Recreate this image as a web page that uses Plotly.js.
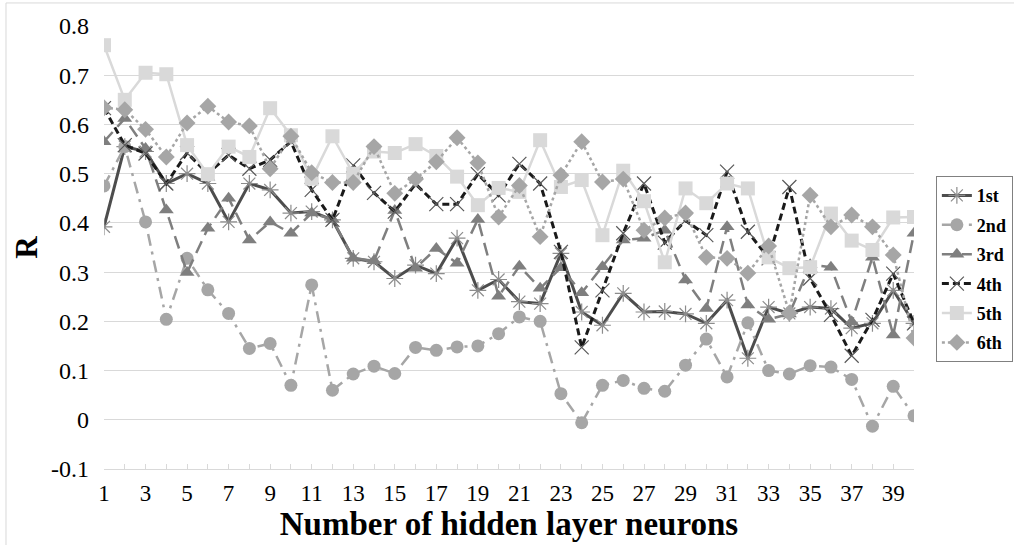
<!DOCTYPE html>
<html>
<head>
<meta charset="utf-8">
<script src="https://cdn.plot.ly/plotly-3.0.1.min.js"></script>
<style>
  html, body { margin: 0; padding: 0; background: #fff; }
  #chart { width: 1014px; height: 545px; }
</style>
</head>
<body>
<div id="chart"></div>
<script>
// Number of hidden layer neurons
const neurons = [1,2,3,4,5,6,7,8,9,10,11,12,13,14,15,16,17,18,19,20,
                 21,22,23,24,25,26,27,28,29,30,31,32,33,34,35,36,37,38,39,40];

const seriesNames = ["1st", "2nd", "3rd", "4th", "5th", "6th"];

const r1st = [0.392,0.555,0.545,0.480,0.500,0.480,0.402,0.480,0.467,0.420,
              0.423,0.406,0.328,0.321,0.287,0.314,0.297,0.369,0.263,0.285,
              0.240,0.236,0.338,0.219,0.192,0.257,0.219,0.220,0.215,0.196,
              0.243,0.125,0.229,0.216,0.229,0.226,0.186,0.196,0.263,0.196];

const r2nd = [0.475,0.555,0.402,0.204,0.328,0.264,0.216,0.145,0.155,0.070,
              0.274,0.060,0.093,0.109,0.094,0.147,0.141,0.148,0.150,0.175,
              0.209,0.200,0.053,-0.006,0.070,0.080,0.064,0.058,0.111,0.164,
              0.087,0.197,0.100,0.093,0.110,0.107,0.082,-0.013,0.068,0.008];

const r3rd = [0.565,0.612,0.551,0.426,0.299,0.389,0.450,0.365,0.402,0.379,
              0.420,0.407,0.328,0.323,0.425,0.308,0.348,0.318,0.407,0.251,
              0.312,0.267,0.309,0.258,0.311,0.365,0.369,0.385,0.284,0.226,
              0.392,0.233,0.204,0.215,0.315,0.310,0.199,0.330,0.172,0.379];

const r4th = [0.633,0.558,0.541,0.480,0.542,0.500,0.538,0.510,0.528,0.565,
              0.467,0.406,0.517,0.461,0.423,0.479,0.438,0.438,0.499,0.456,
              0.520,0.480,0.341,0.147,0.263,0.379,0.480,0.360,0.405,0.375,
              0.504,0.382,0.328,0.473,0.287,0.213,0.130,0.203,0.297,0.196];

const r5th = [0.761,0.650,0.705,0.702,0.558,0.499,0.555,0.534,0.633,0.578,
              0.490,0.576,0.500,0.545,0.542,0.560,0.536,0.494,0.436,0.471,
              0.463,0.568,0.473,0.487,0.375,0.506,0.444,0.320,0.470,0.440,
              0.480,0.470,0.330,0.308,0.310,0.419,0.364,0.345,0.411,0.412];

const r6th = [0.634,0.630,0.590,0.534,0.603,0.637,0.605,0.597,0.510,0.576,
              0.502,0.482,0.482,0.555,0.460,0.489,0.524,0.573,0.522,0.412,
              0.476,0.372,0.497,0.565,0.483,0.489,0.385,0.410,0.420,0.330,
              0.328,0.298,0.353,0.217,0.456,0.392,0.416,0.392,0.335,0.166];

const xTickVals = neurons;
const xTickText = neurons.map(n => (n % 2 === 1 ? String(n) : ""));
const yTickVals = [-0.1, 0, 0.1, 0.2, 0.3, 0.4, 0.5, 0.6, 0.7, 0.8];
const yTickText = ["-0.1", "0", "0.1", "0.2", "0.3", "0.4", "0.5", "0.6", "0.7", "0.8"];

const styles = [
  {line: {color: "#4d4d4d", width: 3, dash: "solid"},
   marker: {symbol: "asterisk-open", size: 14, color: "#8c8c8c", line: {color: "#8c8c8c", width: 1.2}}},
  {line: {color: "#a6a6a6", width: 2.5, dash: "12px,6px,3px,6px"},
   marker: {symbol: "circle", size: 13, color: "#a6a6a6"}},
  {line: {color: "#7f7f7f", width: 2.5, dash: "13px,7px"},
   marker: {symbol: "triangle-up", size: 13, color: "#7f7f7f"}},
  {line: {color: "#1a1a1a", width: 3, dash: "7px,4px"},
   marker: {symbol: "x-thin-open", size: 14, color: "#595959", line: {color: "#595959", width: 1.2}}},
  {line: {color: "#d9d9d9", width: 2.5, dash: "solid"},
   marker: {symbol: "square", size: 14, color: "#d9d9d9"}},
  {line: {color: "#a6a6a6", width: 2.5, dash: "dot"},
   marker: {symbol: "diamond", size: 13, color: "#a6a6a6"}}
];

const seriesData = [r1st, r2nd, r3rd, r4th, r5th, r6th];

const traces = seriesData.map((ys, i) => ({
  type: "scatter",
  mode: "lines+markers",
  name: seriesNames[i],
  legendgroup: "g" + i,
  x: neurons,
  y: ys,
  line: styles[i].line,
  marker: styles[i].marker
}));

const serif = "Liberation Serif";

const layout = {
  width: 1014,
  height: 545,
  paper_bgcolor: "#ffffff",
  plot_bgcolor: "#ffffff",
  margin: {l: 104, r: 100, t: 26, b: 76, autoexpand: false},
  showlegend: true,
  legend: {
    x: 1.027, xanchor: "left",
    y: 0.661, yanchor: "top",
    bgcolor: "#ffffff",
    bordercolor: "#808080",
    borderwidth: 1,
    font: {family: serif, size: 18, color: "#000000", weight: "bold"},
    itemwidth: 30,
    tracegroupgap: 3,
    traceorder: "grouped"
  },
  xaxis: {
    range: [1, 40],
    tickmode: "array",
    tickvals: xTickVals,
    ticktext: xTickText,
    ticks: "inside",
    ticklen: 5,
    tickcolor: "#d9d9d9",
    showgrid: false,
    zeroline: false,
    showline: true,
    linecolor: "#d9d9d9",
    linewidth: 1,
    tickfont: {family: serif, size: 23, color: "#000000"},
    ticklabelstandoff: 3,
    title: {text: "Number of hidden layer neurons",
            font: {family: serif, size: 33, color: "#000000", weight: "bold"},
            standoff: 4}
  },
  yaxis: {
    range: [-0.1, 0.8],
    tickmode: "array",
    tickvals: yTickVals,
    ticktext: yTickText,
    showgrid: true,
    gridcolor: "#d9d9d9",
    gridwidth: 1,
    zeroline: false,
    showline: false,
    ticks: "",
    tickfont: {family: serif, size: 24, color: "#000000"},
    ticklabelstandoff: 14,
    title: {text: "R",
            font: {family: serif, size: 31, color: "#000000", weight: "bold"},
            standoff: 4}
  },
  shapes: [
    {type: "line", xref: "paper", yref: "paper",
     x0: -0.121, x1: 1.2, y0: 1.052, y1: 1.052,
     line: {color: "#d9d9d9", width: 1}},
    {type: "line", xref: "paper", yref: "paper",
     x0: -0.121, x1: -0.121, y0: 1.052, y1: -0.2,
     line: {color: "#d9d9d9", width: 1}}
  ]
};

Plotly.newPlot("chart", traces, layout, {displayModeBar: false, staticPlot: true});
</script>
</body>
</html>
